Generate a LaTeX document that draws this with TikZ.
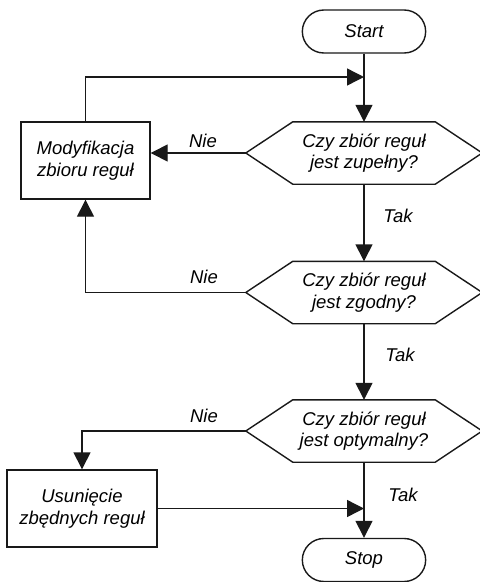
\documentclass[tikz,border=0pt]{standalone}
\usepackage{fontspec}
\setmainfont{Liberation Sans}
\usetikzlibrary{shapes.misc,arrows.meta}
\begin{document}
\begin{tikzpicture}[x=1pt,y=-1pt,
  every node/.style={font=\fontsize{18.5}{21.5}\selectfont\itshape},
  line/.style={line width=1.4pt, draw=black!90},
  arr/.style={line, -{Triangle[length=17pt,width=17pt]}},
  terminal/.style={rounded rectangle, draw=black!90, line width=1.4pt, minimum width=130pt, minimum height=43pt},
  process/.style={rectangle, draw=black!90, line width=1.4pt, minimum height=77pt, align=center},
  decision/.style={rectangle, minimum width=236pt, minimum height=62pt, align=center, inner sep=0pt},
  lbl/.style={inner sep=0pt}
]
\useasboundingbox (0,0) rectangle (480,582);

% terminals, processes and decisions
\node[terminal] (start) at (364,31.5) {Start};
\node[process, minimum width=129pt] (mod) at (85.5,160.5) {Modyfikacja\\zbioru reguł};
\node[decision] (d1) at (364,153) {Czy zbiór reguł\\jest zupełny?};
\node[decision] (d2) at (364,292.5) {Czy zbiór reguł\\jest zgodny?};
\node[decision] (d3) at (364,431) {Czy zbiór reguł\\jest optymalny?};
\node[process, minimum width=150pt] (usu) at (82,508.5) {Usunięcie\\zbędnych reguł};
\node[terminal] (stop) at (364,560) {Stop};

% hexagonal outlines of the decisions
\foreach \d in {d1,d2,d3}{
  \draw[line] (\d.west) -- ([xshift=47pt]\d.north west) -- ([xshift=-47pt]\d.north east)
    -- (\d.east) -- ([xshift=-47pt]\d.south east) -- ([xshift=47pt]\d.south west) -- cycle;
}

% junctions on the main line
\coordinate (j1) at (364,77);
\coordinate (j2) at (364,508.5);

% connectors
\draw[arr] (start.south) -- (d1.north);
\draw[arr] (mod.north) |- (j1);
\draw[arr] (d1.west) -- (d1.west -| mod.east);
\draw[arr] (d1.south) -- (d2.north);
\draw[arr] (d2.west) -| (mod.south);
\draw[arr] (d2.south) -- (d3.north);
\draw[arr] (d3.west) -| (usu.north);
\draw[arr] (d3.south) -- (stop.north);
\draw[arr] (usu.east) -- (j2);

% branch labels
\node[lbl] (n1) at (203,141) {Nie};
\node[lbl] (n2) at (204,277) {Nie};
\node[lbl] (n3) at (204,416) {Nie};
\node[lbl] (t1) at (398,216) {Tak};
\node[lbl] (t2) at (400,355) {Tak};
\node[lbl] (t3) at (403,495) {Tak};
\end{tikzpicture}
\end{document}
